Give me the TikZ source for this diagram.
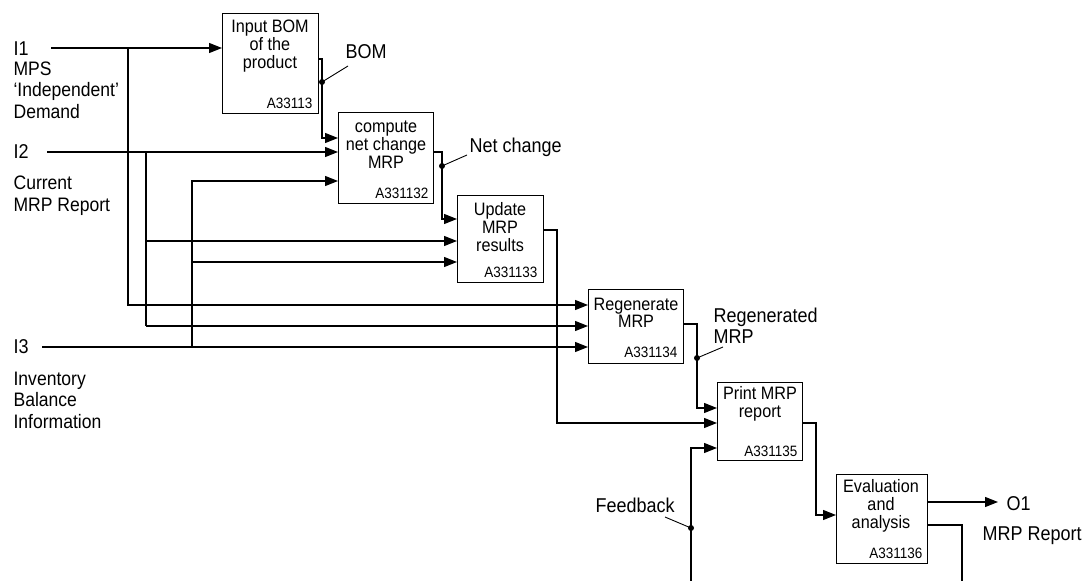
\documentclass[tikz,border=0pt]{standalone}
\usepackage{fontspec}
\setmainfont{Liberation Sans}[FakeStretch=0.9]
\usetikzlibrary{arrows.meta}
\begin{document}
\begin{tikzpicture}[x=1pt,y=-1pt,
  line width=1.2pt,
  box/.style={draw,line width=1.2pt,anchor=north west,inner sep=0pt},
  arr/.style={-{Triangle[length=13pt,width=10pt]}},
  boxtext/.style={anchor=base,align=center,inner sep=0pt,font=\fontsize{18}{18}\selectfont},
  code/.style={anchor=base east,inner sep=0pt,font=\fontsize{15}{15}\selectfont},
  biglabel/.style={anchor=base west,inner sep=0pt,font=\fontsize{20}{21}\selectfont},
  sidelabel/.style={anchor=base west,align=left,inner sep=0pt,font=\fontsize{19.5}{21.5}\selectfont},
  leader/.style={line width=0.9pt},
  dotc/.style={circle,fill,inner sep=0pt,minimum size=6pt}
]
\useasboundingbox (0,0) rectangle (1082,581);

% boxes
\node[box,minimum width=96pt,minimum height=100pt] (b1) at (222,13) {};
\node[box,minimum width=95pt,minimum height=91pt] (b2) at (338,112) {};
\node[box,minimum width=86pt,minimum height=87pt] (b3) at (457,195) {};
\node[box,minimum width=95pt,minimum height=74pt] (b4) at (588,289) {};
\node[box,minimum width=85pt,minimum height=78pt] (b5) at (717,382) {};
\node[box,minimum width=91pt,minimum height=89pt] (b6) at (836,474) {};

% box texts (base = last line)
\node[boxtext] (t1) at (270,68) {Input BOM\\of the\\product};
\node[code] (c1) at (313,108) {A33113};
\node[boxtext] (t2) at (386,168) {compute\\net change\\MRP};
\node[code] (c2) at (429,198) {A331132};
\node[boxtext] (t3) at (500,251) {Update\\MRP\\results};
\node[code] (c3) at (538,277) {A331133};
\node[boxtext,font=\fontsize{18}{16.5}\selectfont] (t4) at (636,327) {Regenerate\\MRP};
\node[code] (c4) at (678,357) {A331134};
\node[boxtext] (t5) at (760,417) {Print MRP\\report};
\node[code] (c5) at (798,456) {A331135};
\node[boxtext] (t6) at (881,528) {Evaluation\\and\\analysis};
\node[code] (c6) at (923,558) {A331136};

% left labels
\node[biglabel] (li1) at (13,55) {I1};
\node[sidelabel] (ld1) at (13,118) {MPS\\‘Independent’\\Demand};
\node[biglabel] (li2) at (13,158) {I2};
\node[sidelabel] (ld2) at (13,211) {Current\\MRP Report};
\node[biglabel] (li3) at (13,353) {I3};
\node[sidelabel] (ld3) at (13,428) {Inventory\\Balance\\Information};

% right labels
\node[biglabel] (lbom) at (345,58) {BOM};
\node[biglabel] (lnet) at (469,152) {Net change};
\node[sidelabel,font=\fontsize{20}{21}\selectfont] (lreg) at (713,343) {Regenerated\\MRP};
\node[biglabel] (lfb) at (595,512) {Feedback};
\node[biglabel] (lo1) at (1006,510) {O1};
\node[biglabel] (lrep) at (982,540) {MRP Report};

% coordinates
\coordinate (i1s) at (51,48);
\coordinate (i2s) at (47,152);
\coordinate (i3s) at (42,347);
\coordinate (v1) at (128,48);
\coordinate (v2) at (146,152);
\coordinate (v3) at (192,181);
\coordinate (bomx) at (322,59);
\coordinate (netx) at (442,152);
\coordinate (b3x) at (557,230);
\coordinate (b4x) at (697,324);
\coordinate (fbs) at (691,581);
\coordinate (b5x) at (816,423);
\coordinate (o1e) at (998,502);
\coordinate (b6x) at (962,525);
\coordinate (b6e) at (962,581);

% inputs I1
\draw[arr] (i1s) -- (i1s -| b1.west);
\draw[arr] (v1) |- (b4.west |- 0,305);
% I2
\draw[arr] (i2s) -- (b2.west |- i2s);
\draw (v2) -- (146,326);
\draw[arr] (146,326) -- (b4.west |- 0,326);
\draw[arr] (146,241) -- (b3.west |- 0,241);
% I3 branch
\draw[arr] (192,347) |- (b2.west |- v3);
\draw[arr] (192,262) -- (b3.west |- 0,262);
\draw[arr] (i3s) -- (b4.west |- i3s);

% BOM
\draw[arr] (b1.east |- bomx) -- (bomx) |- (b2.west |- 0,138);
% Net change
\draw[arr] (b2.east |- netx) -- (netx) |- (b3.west |- 0,219);
% b3 -> b5
\draw[arr] (b3.east |- b3x) -- (b3x) |- (b5.west |- 0,423);
% b4 -> b5
\draw[arr] (b4.east |- b4x) -- (b4x) |- (b5.west |- 0,408);
% feedback
\draw[arr] (fbs) |- (b5.west |- 0,448);
% b5 -> b6
\draw[arr] (b5.east |- b5x) -- (b5x) |- (b6.west |- 0,515);
% outputs
\draw[arr] (b6.east |- o1e) -- (o1e);
\draw (b6.east |- b6x) -- (b6x) -- (b6e);

% dots and leaders
\node[dotc] (dbom) at (322,82) {};
\node[dotc] (dnet) at (442,166) {};
\node[dotc] (dreg) at (697,358) {};
\node[dotc] (dfb) at (691,528) {};
\draw[leader] (dbom.center) -- (348,66);
\draw[leader] (dnet.center) -- (467,155);
\draw[leader] (dreg.center) -- (723,347);
\draw[leader] (dfb.center) -- (665,517);
\end{tikzpicture}
\end{document}
